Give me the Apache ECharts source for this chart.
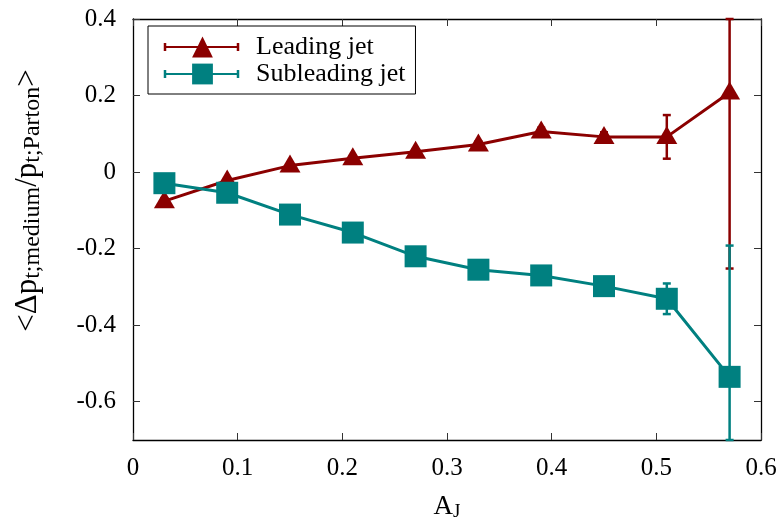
<!DOCTYPE html>
<html>
<head>
<meta charset="utf-8">
<script src="https://cdn.jsdelivr.net/npm/echarts@6/dist/echarts.min.js"></script>
<style>
html,body{margin:0;padding:0;background:#fff;}
#chart{width:783px;height:527px;}
</style>
</head>
<body>
<div id="chart"></div>
<script>
// ---- data ----
const aJ = [0.03, 0.09, 0.15, 0.21, 0.27, 0.33, 0.39, 0.45, 0.51, 0.57];
const leading = [-0.076, -0.022, 0.017, 0.036, 0.053, 0.072, 0.106, 0.092, 0.092, 0.208];
const leadingErr = [0.008, 0.006, 0.006, 0.006, 0.006, 0.008, 0.010, 0.012, 0.057, 0.46];
const subleading = [-0.029, -0.054, -0.111, -0.158, -0.220, -0.255, -0.270, -0.298, -0.331, -0.535];
const subleadingErr = [0.006, 0.006, 0.006, 0.006, 0.006, 0.008, 0.008, 0.010, 0.040, 0.343];
const xTicks = [0, 0.1, 0.2, 0.3, 0.4, 0.5, 0.6];
const yTicks = [-0.6, -0.4, -0.2, 0, 0.2, 0.4];
const seriesNames = ['Leading jet', 'Subleading jet'];

const RED = '#8b0000';
const TEAL = '#008080';
const FONT = 'Liberation Serif';
const X_MIN = 0, X_MAX = 0.6, Y_MIN = -0.7, Y_MAX = 0.4;

function fmt(v) {
  if (Math.abs(v) < 1e-9) return '0';
  return String(Math.round(v * 10) / 10);
}

function errData(vals, errs) {
  return aJ.map((x, i) => [x, vals[i] - errs[i], vals[i] + errs[i]]);
}

function errRender(color) {
  return function (params, api) {
    const x = api.value(0);
    const lo = Math.max(api.value(1), Y_MIN);
    const hi = Math.min(api.value(2), Y_MAX);
    const p1 = api.coord([x, hi]);
    const p2 = api.coord([x, lo]);
    const w = 4;
    const st = { stroke: color, lineWidth: 2.5 };
    return {
      type: 'group',
      children: [
        { type: 'line', shape: { x1: p1[0], y1: p1[1], x2: p2[0], y2: p2[1] }, style: st },
        { type: 'line', shape: { x1: p1[0] - w, y1: p1[1], x2: p1[0] + w, y2: p1[1] }, style: st },
        { type: 'line', shape: { x1: p2[0] - w, y1: p2[1], x2: p2[0] + w, y2: p2[1] }, style: st }
      ]
    };
  };
}

const chart = echarts.init(document.getElementById('chart'), null, { renderer: 'canvas' });

const axisCommon = {
  axisLine: { show: true, onZero: false, lineStyle: { color: '#000', width: 1.3 } },
  axisTick: { show: true, inside: true, length: 7, lineStyle: { color: '#333', width: 1 } },
  splitLine: { show: false }
};

// legend layout (decoration only)
const LEG = { left: 148, top: 26, padL: 17, padT: 8, itemW: 73, itemH: 26, gap: 1 };
function legendCaps() {
  const out = [];
  [RED, TEAL].forEach((c, i) => {
    const cy = LEG.top + LEG.padT + LEG.itemH / 2 + i * (LEG.itemH + LEG.gap);
    [LEG.left + LEG.padL, LEG.left + LEG.padL + LEG.itemW].forEach(cx => {
      out.push({ type: 'line', silent: true, z: 100,
        shape: { x1: cx, y1: cy - 4, x2: cx, y2: cy + 4 },
        style: { stroke: c, lineWidth: 2.5 } });
    });
  });
  return out;
}

const option = {
  animation: false,
  backgroundColor: '#fff',
  grid: { left: 133, right: 22, top: 19, bottom: 82, containLabel: false },
  legend: {
    data: seriesNames,
    orient: 'vertical',
    left: LEG.left,
    top: LEG.top,
    padding: [LEG.padT, 10, 7, LEG.padL],
    borderColor: '#000',
    borderWidth: 1,
    itemWidth: LEG.itemW,
    itemHeight: LEG.itemH,
    itemGap: LEG.gap,
    selectedMode: false,
    textStyle: { fontFamily: FONT, fontSize: 26, color: '#000', lineHeight: 26, padding: [0, 0, 0, 12] }
  },
  graphic: legendCaps(),
  xAxis: [
    Object.assign({}, axisCommon, {
      type: 'value', min: X_MIN, max: X_MAX, interval: 0.1, position: 'bottom',
      axisLabel: { fontFamily: FONT, fontSize: 25, color: '#000', margin: 16, formatter: fmt },
      name: 'A{sub|J}', nameLocation: 'middle', nameGap: 52,
      nameTextStyle: {
        fontFamily: FONT, fontSize: 27, color: '#000', lineHeight: 30,
        rich: { sub: { fontFamily: FONT, fontSize: 19, color: '#000', verticalAlign: 'bottom', lineHeight: 18 } }
      }
    }),
    Object.assign({}, axisCommon, {
      type: 'value', min: X_MIN, max: X_MAX, interval: 0.1, position: 'top',
      axisLabel: { show: false }
    })
  ],
  yAxis: [
    Object.assign({}, axisCommon, {
      type: 'value', min: Y_MIN, max: Y_MAX, interval: 0.2, position: 'left',
      axisLabel: { fontFamily: FONT, fontSize: 25, color: '#000', margin: 17, formatter: fmt,
        customValues: yTicks },
      axisTick: Object.assign({}, axisCommon.axisTick, { customValues: yTicks }),
      name: '<Δp{sub|t;medium}/p{sub|t;Parton}>', nameLocation: 'middle', nameRotate: 90, nameGap: 88,
      nameTextStyle: {
        fontFamily: FONT, fontSize: 31, color: '#000', lineHeight: 34, padding: [0, 0, 0, 58],
        rich: { sub: { fontFamily: FONT, fontSize: 24, color: '#000', verticalAlign: 'bottom', lineHeight: 22 } }
      }
    }),
    Object.assign({}, axisCommon, {
      type: 'value', min: Y_MIN, max: Y_MAX, interval: 0.2, position: 'right',
      axisLabel: { show: false },
      axisTick: Object.assign({}, axisCommon.axisTick, { customValues: yTicks })
    })
  ],
  series: [
    {
      type: 'custom', name: 'Leading jet err', xAxisIndex: 0, yAxisIndex: 0,
      data: errData(leading, leadingErr), renderItem: errRender(RED), silent: true
    },
    {
      type: 'line', name: seriesNames[0], xAxisIndex: 0, yAxisIndex: 0,
      data: aJ.map((x, i) => [x, leading[i]]),
      color: RED,
      symbol: 'triangle', symbolSize: [21, 18], symbolOffset: [0, -2], showAllSymbol: true,
      lineStyle: { color: RED, width: 3 },
      itemStyle: { color: RED }
    },
    {
      type: 'custom', name: 'Subleading jet err', xAxisIndex: 0, yAxisIndex: 0,
      data: errData(subleading, subleadingErr), renderItem: errRender(TEAL), silent: true
    },
    {
      type: 'line', name: seriesNames[1], xAxisIndex: 0, yAxisIndex: 0,
      data: aJ.map((x, i) => [x, subleading[i]]),
      color: TEAL,
      symbol: 'rect', symbolSize: 22, showAllSymbol: true,
      lineStyle: { color: TEAL, width: 3 },
      itemStyle: { color: TEAL }
    }
  ]
};

chart.setOption(option);
</script>
</body>
</html>
